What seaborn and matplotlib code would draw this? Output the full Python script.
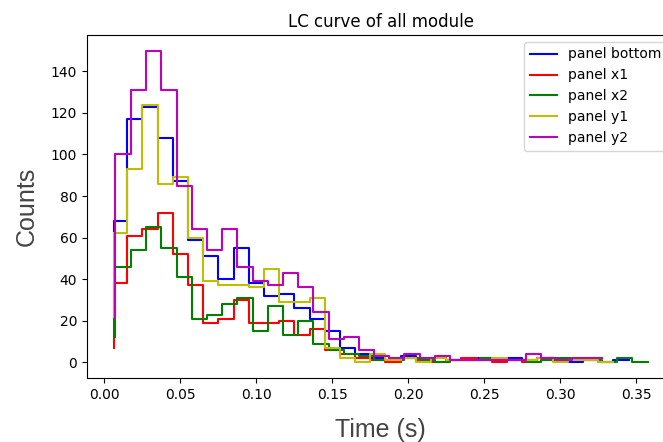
import matplotlib
matplotlib.use("Agg")
import matplotlib.pyplot as plt
import seaborn as sns

# bin edges (s) - two slightly offset time grids
time_a = [0.006, 0.015, 0.025, 0.035, 0.045, 0.055, 0.065, 0.075, 0.085, 0.095,
          0.105, 0.115, 0.125, 0.135, 0.145, 0.155, 0.165, 0.175, 0.185, 0.195,
          0.205, 0.215, 0.225, 0.235, 0.245, 0.255, 0.265, 0.275, 0.285, 0.295,
          0.305, 0.315, 0.325, 0.335, 0.345]
time_b = [0.007, 0.0175, 0.0275, 0.0375, 0.0475, 0.0575, 0.0675, 0.0775, 0.0875, 0.0975,
          0.1075, 0.1175, 0.1275, 0.1375, 0.1475, 0.1575, 0.1675, 0.1775, 0.1875, 0.1975,
          0.2075, 0.2175, 0.2275, 0.2375, 0.2475, 0.2575, 0.2675, 0.2775, 0.2875, 0.2975,
          0.3075, 0.3175, 0.3275, 0.3375, 0.3475, 0.3575]

# counts per bin
counts_bottom = [63, 68, 117, 123, 108, 87, 59, 51, 40, 55, 38, 32, 33, 26, 21, 15, 7, 4, 2, 1,
                 3, 1, 2, 1, 1, 2, 1, 2, 1, 2, 1, 0, 1, 0, 1]
counts_x1 = [7, 38, 61, 64, 72, 52, 37, 19, 21, 30, 19, 19, 20, 13, 16, 6, 4, 2, 1, 0,
             2, 1, 0, 1, 2, 1, 0, 1, 0, 2]
counts_x2 = [12, 46, 54, 65, 55, 41, 21, 23, 28, 31, 15, 27, 13, 20, 9, 6, 4, 3, 1, 1,
             2, 1, 0, 1, 1, 2, 1, 1, 0, 1, 2, 1, 1, 0, 2, 0]
counts_y1 = [22, 62, 93, 124, 86, 89, 60, 39, 37, 37, 36, 45, 29, 29, 31, 7, 2, 0, 4, 1,
             2, 0, 2, 1, 1, 1, 2, 1, 1, 2, 0, 1, 1, 0]
counts_y2 = [22, 100, 131, 150, 131, 85, 64, 54, 64, 46, 39, 37, 43, 36, 24, 11, 12, 6, 3, 2,
             4, 2, 3, 1, 1, 1, 1, 1, 4, 2, 1, 2, 2]

labels = ["panel bottom", "panel x1", "panel x2", "panel y1", "panel y2"]
colors = ["b", "r", "g", "y", "m"]
series = [(time_a, counts_bottom), (time_a, counts_x1), (time_b, counts_x2),
          (time_a, counts_y1), (time_b, counts_y2)]

fig = plt.figure(figsize=(6.63, 4.42), dpi=100)
ax = fig.add_axes([0.131, 0.145, 0.886, 0.776])

for (t, c), lab, col in zip(series, labels, colors):
    sns.lineplot(x=t[:len(c)], y=c, color=col, label=lab, drawstyle="steps-pre",
                 estimator=None, linewidth=1.5, ax=ax)

ax.legend(loc="upper right")
ax.set_title("LC curve of all module", fontsize=12)
ax.set_xlabel("Time (s)", fontsize=18, family="Liberation Sans", color="#444444", labelpad=12)
ax.set_ylabel("Counts", fontsize=18, family="Liberation Sans", color="#444444", labelpad=9)

fig.savefig("out.png", dpi=100)
